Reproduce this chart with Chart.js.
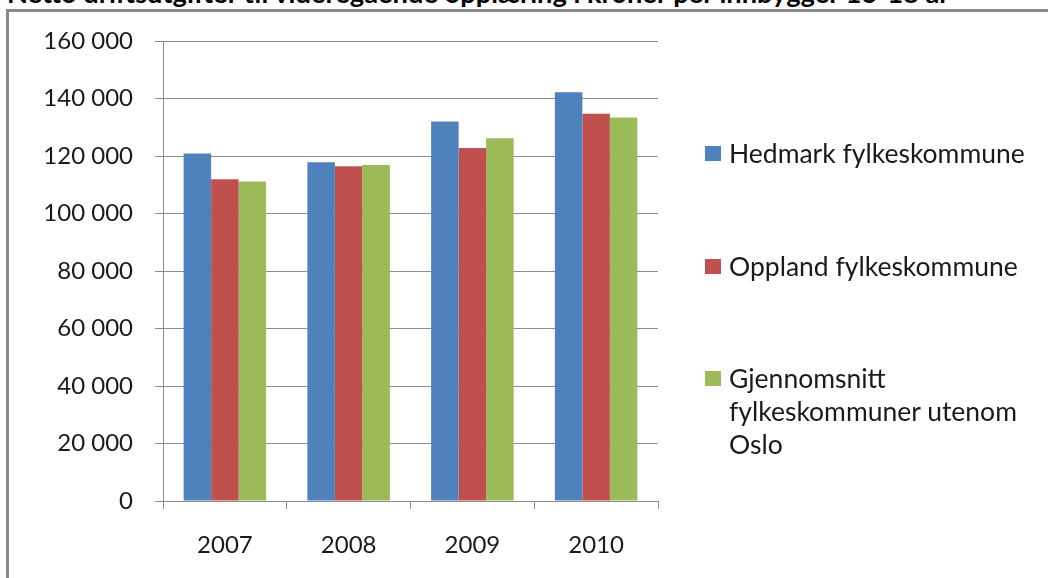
<!DOCTYPE html>
<html><head><meta charset="utf-8">
<script src="https://cdn.jsdelivr.net/npm/chart.js@4/dist/chart.umd.min.js"></script>
<style>
html,body{margin:0;padding:0;background:#fff;overflow:hidden;width:1048px;height:578px;}
#frame{position:absolute;left:6px;top:9px;width:2000px;height:2000px;border-left:3px solid #8a8a8a;border-top:3px solid #8a8a8a;}
#title{position:absolute;left:7px;white-space:nowrap;font-family:Lato;font-weight:bold;color:#000;}
#wrap{position:absolute;left:0;top:0;width:1048px;height:578px;}
#legend{position:absolute;left:0;top:0;}
.leg{position:absolute;left:705px;font-family:Lato;font-size:26.5px;color:#1a1a1a;line-height:33px;width:345px;}
.sw{position:absolute;left:0;top:9px;width:16px;height:15px;}
.lt{position:absolute;left:24px;top:0;width:318px;}
</style></head>
<body>
<div id="frame"></div>
<div id="title"></div>
<div id="wrap"><canvas id="c" width="1048" height="578"></canvas></div>
<div id="legend"></div>
<script>
const titleText = "Netto driftsutgifter til videregående opplæring i kroner per innbygger 16-18 år";
const years = ["2007", "2008", "2009", "2010"];
const seriesNames = ["Hedmark fylkeskommune", "Oppland fylkeskommune", "Gjennomsnitt fylkeskommuner utenom Oslo"];
const hedmark = [120900, 117800, 132000, 142200];
const oppland = [111900, 116400, 122800, 134700];
const snitt = [111100, 116900, 126200, 133400];
const seriesColors = ["#4F81BD", "#C0504D", "#9BBB59"];
const yMin = 0, yMax = 160000, yStep = 20000;

// title (cut off at top as in the reference)
const tEl = document.getElementById('title');
tEl.textContent = titleText;
const mctx = document.createElement('canvas').getContext('2d');
mctx.font = "bold 100px Lato";
const tw = mctx.measureText(titleText).width;
const tSize = 100 * 946 / tw;
tEl.style.fontSize = tSize + "px";
tEl.style.lineHeight = tSize + "px";
tEl.style.top = (3 - 0.887 * tSize) + "px";

function fmt(v) {
  return String(v).replace(/\B(?=(\d{3})+(?!\d))/g, " ");
}

const values = [hedmark, oppland, snitt];
const chart = new Chart(document.getElementById('c'), {
  type: 'bar',
  data: {
    labels: years,
    datasets: seriesNames.map((n, i) => ({
      label: n,
      data: values[i],
      backgroundColor: seriesColors[i],
      borderWidth: 0,
      categoryPercentage: 3 / 4.5,
      barPercentage: 1
    }))
  },
  options: {
    responsive: false,
    animation: false,
    devicePixelRatio: 1,
    layout: { padding: { top: 41, right: 390, bottom: 0, left: 0 } },
    plugins: { legend: { display: false }, title: { display: false }, tooltip: { enabled: false } },
    scales: {
      y: {
        min: yMin, max: yMax,
        afterFit: s => { s.width = 163; },
        ticks: {
          stepSize: yStep,
          callback: v => fmt(v),
          font: { family: 'Lato', size: 24 },
          color: '#1a1a1a',
          padding: 22
        },
        grid: { color: '#8c8c8c', lineWidth: 1, tickLength: 8, drawTicks: true },
        border: { color: '#8c8c8c', width: 1 }
      },
      x: {
        afterFit: s => { s.height = 77; },
        ticks: {
          font: { family: 'Lato', size: 24 },
          color: '#1a1a1a',
          padding: 22
        },
        grid: { drawOnChartArea: false, drawTicks: true, tickLength: 8, color: '#8c8c8c', offset: true },
        border: { color: '#8c8c8c', width: 1 }
      }
    }
  }
});

// legend built from the chart's datasets
const legTops = [137, 250, 362];
const lg = document.getElementById('legend');
chart.data.datasets.forEach((ds, i) => {
  const d = document.createElement('div');
  d.className = 'leg';
  d.style.top = legTops[i] + 'px';
  const sw = document.createElement('div');
  sw.className = 'sw';
  sw.style.background = ds.backgroundColor;
  const t = document.createElement('div');
  t.className = 'lt';
  t.textContent = ds.label;
  d.appendChild(sw); d.appendChild(t);
  lg.appendChild(d);
});
</script>
</body></html>
